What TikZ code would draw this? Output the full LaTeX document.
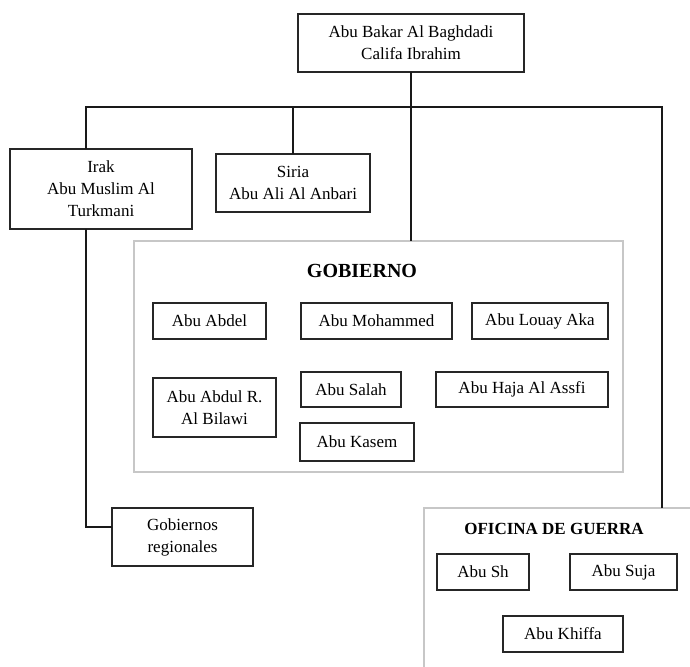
\documentclass[tikz,border=0pt]{standalone}
\usepackage{fontspec}
\setmainfont{Liberation Serif}
\usetikzlibrary{shadows}
\begin{document}
\begin{tikzpicture}[x=0.75pt,y=-0.75pt,
  box/.style={draw=black!85, line width=0.9pt, fill=white, inner sep=0pt, outer sep=0pt, align=center,
    font=\fontsize{12.75pt}{16.5pt}\selectfont},
  panel/.style={draw=black!22, line width=1.1pt, fill=white, inner sep=0pt, outer sep=0pt,
    drop shadow={opacity=0.18, shadow xshift=0.8pt, shadow yshift=-0.8pt}},
  title/.style={font=\fontsize{12.75pt}{15pt}\selectfont\bfseries, inner sep=0pt},
  conn/.style={draw=black!90, line width=1.3pt}]
\useasboundingbox (0,0) rectangle (690,667);
\clip (0,0) rectangle (690,667);
\fill[white] (0,0) rectangle (690,667);

% top
\node[box, minimum width=169.5pt, minimum height=43.5pt] (top) at (411,43) {Abu Bakar Al Baghdadi\\Califa Ibrahim};
\node[box, minimum width=136.5pt, minimum height=60pt] (irak) at (101,189) {Irak\\Abu Muslim Al\\Turkmani};
\node[box, minimum width=115.5pt, minimum height=43.5pt] (siria) at (293,183) {Siria\\Abu Ali Al Anbari};

% gobierno panel
\node[panel, minimum width=366.75pt, minimum height=173.25pt] (gob) at (378.5,356.5) {};
\node[title, font=\fontsize{15pt}{18pt}\selectfont\bfseries] (gobt) at (362,271) {GOBIERNO};
\node[box, minimum width=84.75pt, minimum height=27pt] (abdel) at (209.5,321) {Abu Abdel};
\node[box, minimum width=113.25pt, minimum height=27pt] (moh) at (376.5,321) {Abu Mohammed};
\node[box, minimum width=102pt, minimum height=27pt] (louay) at (540,321) {Abu Louay Aka};
\node[box, minimum width=92.25pt, minimum height=44.25pt] (bilawi) at (214.5,407.5) {Abu Abdul R.\\Al Bilawi};
\node[box, minimum width=75pt, minimum height=26.25pt] (salah) at (351,389.5) {Abu Salah};
\node[box, minimum width=129pt, minimum height=26.25pt] (haja) at (522,389.5) {Abu Haja Al Assfi};
\node[box, minimum width=85.5pt, minimum height=28.5pt] (kasem) at (357,442) {Abu Kasem};

% regional
\node[box, minimum width=105.75pt, minimum height=43.5pt] (greg) at (182.5,537) {Gobiernos\\regionales};

% oficina de guerra panel
\node[panel, minimum width=214.5pt, minimum height=136.5pt] (ofi) at (567,599) {};
\node[title] (ofit) at (554,529) {OFICINA DE GUERRA};
\node[box, minimum width=69pt, minimum height=27pt] (sh) at (483,572) {Abu Sh};
\node[box, minimum width=80.25pt, minimum height=27pt] (suja) at (623.5,572) {Abu Suja};
\node[box, minimum width=90pt, minimum height=27pt] (khiffa) at (563,634) {Abu Khiffa};

% connectors
\coordinate (bL) at (86,107);
\coordinate (bR) at (662,107);
\coordinate (gL) at (112,527);
\draw[conn] (top.south) -- (top.south |- gob.north);
\draw[conn] (bL |- irak.north) -- (bL) -- (bR) -- (bR |- ofi.north);
\draw[conn] (siria.north) -- (siria.north |- bL);
\draw[conn] (bL |- irak.south) |- (gL);
\end{tikzpicture}
\end{document}
